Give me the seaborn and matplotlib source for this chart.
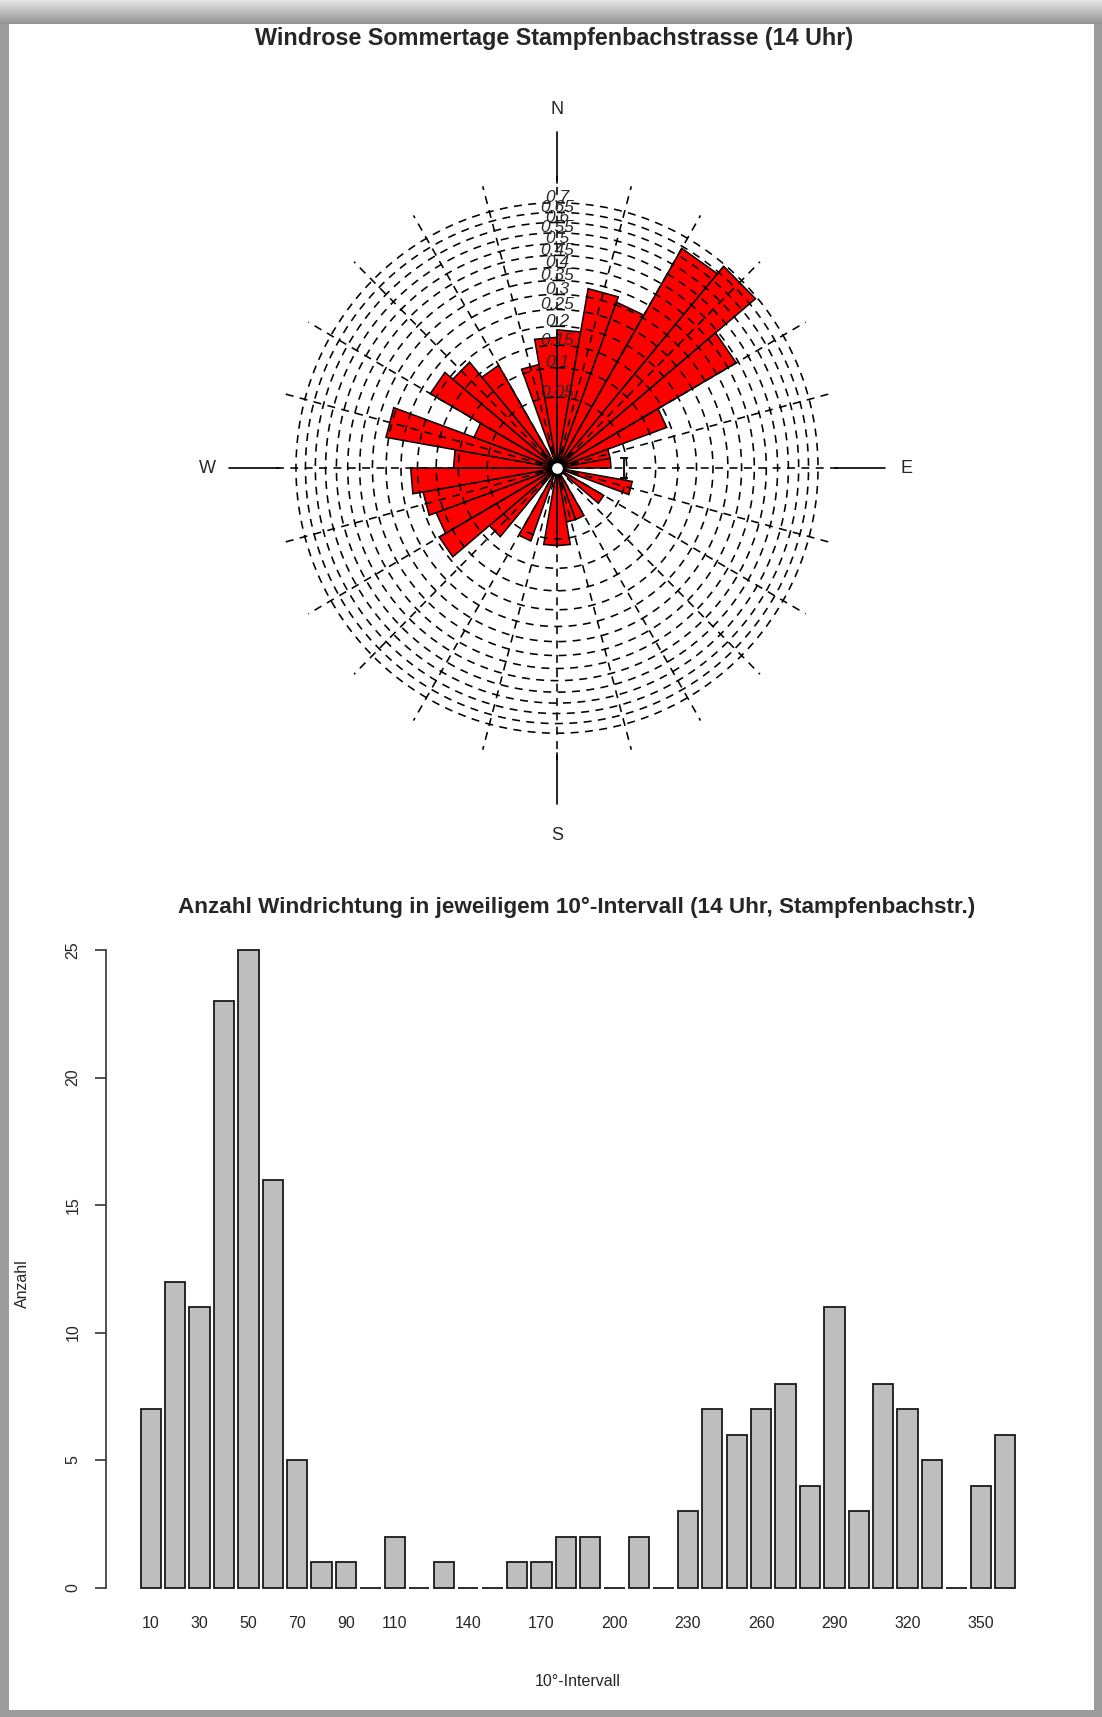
import numpy as np
import pandas as pd
import matplotlib
matplotlib.use('Agg')
import matplotlib.pyplot as plt
import seaborn as sns
from matplotlib.patches import Rectangle

# Anzahl Windrichtungen pro 10-Grad-Intervall
intervalle = [10, 20, 30, 40, 50, 60, 70, 80, 90, 100, 110, 120, 130, 140, 150, 160, 170, 180,
              190, 200, 210, 220, 230, 240, 250, 260, 270, 280, 290, 300, 310, 320, 330, 340, 350, 360]
anzahl = [7, 12, 11, 23, 25, 16, 5, 1, 1, 0, 2, 0, 1, 0, 0, 1, 1, 2,
          2, 0, 2, 0, 3, 7, 6, 7, 8, 4, 11, 3, 8, 7, 5, 0, 4, 6]

rose_freq = [0.19, 0.33, 0.31, 0.64, 0.69, 0.44, 0.14, 0.03, 0.03, 0.0, 0.06, 0.0, 0.03, 0.0, 0.0, 0.03, 0.03, 0.06,
             0.06, 0.0, 0.06, 0.0, 0.08, 0.19, 0.17, 0.19, 0.22, 0.11, 0.31, 0.08, 0.22, 0.19, 0.14, 0.0, 0.11, 0.17]
kreise = [0.05, 0.1, 0.15, 0.2, 0.25, 0.3, 0.35, 0.4, 0.45, 0.5, 0.55, 0.6, 0.65, 0.7]
kreis_labels = ['0.05', '0.1', '0.15', '0.2', '0.25', '0.3', '0.35', '0.4', '0.45', '0.5', '0.55', '0.6', '0.65', '0.7']

xtick_labels = ['10', '30', '50', '70', '90', '110', '140', '170', '200', '230', '260', '290', '320', '350']

sns.set_style('white')
plt.rcParams['font.family'] = ['Liberation Sans', 'DejaVu Sans']

W, H = 1102, 1717
fig = plt.figure(figsize=(W / 100, H / 100), dpi=100, facecolor='#9c9c9c')

# Rahmen / Hintergrund
bg = fig.add_axes([0, 0, 1, 1], zorder=-10)
bg.set_xlim(0, W)
bg.set_ylim(H, 0)
grad = np.linspace(0.90, 0.58, 24).reshape(-1, 1)
bg.imshow(grad, extent=[0, W, 24, 0], cmap='gray', vmin=0, vmax=1, aspect='auto')
bg.add_patch(Rectangle((9, 24), 1085, 1686, facecolor='white', edgecolor='none'))
bg.axis('off')

# ---------------- Windrose ----------------
cx, cy, half = 557, 468, 400
ax1 = fig.add_axes([(cx - half) / W, 1 - (cy + half) / H, 2 * half / W, 2 * half / H])
ax1.set_xlim(-half / 312, half / 312)
ax1.set_ylim(-half / 317, half / 317)
ax1.axis('off')

for i, f in enumerate(rose_freq):
    if f <= 0:
        continue
    r = np.sqrt(f)
    a = np.radians([i * 10, (i + 1) * 10])
    xs = [0, r * np.sin(a[0]), r * np.sin(a[1]), 0]
    ys = [0, r * np.cos(a[0]), r * np.cos(a[1]), 0]
    ax1.fill(xs, ys, facecolor='red', edgecolor='black', linewidth=1.1, zorder=2)

t = np.linspace(0, 2 * np.pi, 400)
for v, lab in zip(kreise, kreis_labels):
    rr = np.sqrt(v)
    ax1.plot(rr * np.sin(t), rr * np.cos(t), color='black', lw=1.15, ls=(0, (5, 4)), zorder=3)
    ax1.text(0, rr - 0.008, lab, ha='center', va='bottom', fontsize=12.5, style='italic',
             color='#2a2a2a', zorder=6)

for ang in range(0, 360, 15):
    a = np.radians(ang)
    ax1.plot([0, 0.92 * np.sin(a)], [0, 0.92 * np.cos(a)], color='black', lw=1.15,
             ls=(0, (5, 4)), zorder=3)

# Himmelsrichtungen
ax1.plot([0, 0], [0.90, 1.06], color='black', lw=1.2)
ax1.plot([0, 0], [-0.90, -1.06], color='black', lw=1.2)
ax1.plot([0.89, 1.05], [0, 0], color='black', lw=1.2)
ax1.plot([-0.89, -1.05], [0, 0], color='black', lw=1.2)
ax1.text(0, 1.13, 'N', ha='center', va='center', fontsize=13)
ax1.text(0, -1.16, 'S', ha='center', va='center', fontsize=13)
ax1.text(1.12, 0, 'E', ha='center', va='center', fontsize=13)
ax1.text(-1.12, 0, 'W', ha='center', va='center', fontsize=13)

ax1.errorbar([0.215], [0], yerr=[0.03], fmt='none', ecolor='black', elinewidth=1.3, capsize=3,
             capthick=1.3, zorder=4)
ax1.scatter([0], [0], s=90, facecolor='white', edgecolor='black', linewidth=1.8, zorder=7)

fig.text(554 / W, 1 - 39 / H, 'Windrose Sommertage Stampfenbachstrasse (14 Uhr)',
         ha='center', va='center', fontsize=16.8, fontweight='bold')

# ---------------- Balkendiagramm ----------------
ax2 = fig.add_axes([105.5 / W, 1 - 1613 / H, 945 / W, 688.5 / H])
df = pd.DataFrame({'intervall': [str(v) for v in intervalle], 'anzahl': anzahl})
sns.barplot(data=df, x='intervall', y='anzahl', color='#bebebe', saturation=1,
            edgecolor='#1a1a1a', linewidth=1.3, width=0.833, ax=ax2)
ax2.set_xlim(-1.85, 36.85)
ax2.set_ylim(-1, 26)
for s in ['top', 'right', 'bottom']:
    ax2.spines[s].set_visible(False)
ax2.spines['left'].set_bounds(0, 25)
ax2.spines['left'].set_linewidth(1.2)
ax2.spines['left'].set_color('#333333')

ax2.set_yticks(range(0, 26, 5))
ax2.set_yticklabels([str(v) for v in range(0, 26, 5)], rotation=90, va='center', fontsize=11.5)
ax2.tick_params(axis='y', length=8, width=1.2, pad=10, color='#333333', left=True)

pos = [intervalle.index(int(l)) for l in xtick_labels]
ax2.set_xticks(pos)
ax2.set_xticklabels(xtick_labels, fontsize=11.5)
ax2.tick_params(axis='x', length=0, pad=2)

ax2.set_xlabel('10°-Intervall', fontsize=11.5)
ax2.set_ylabel('Anzahl', fontsize=11.5)
ax2.xaxis.set_label_coords(0.5, -0.089)
ax2.yaxis.set_label_coords(-0.08, 0.478)

fig.text(577 / W, 1 - 907 / H,
         'Anzahl Windrichtung in jeweiligem 10°-Intervall (14 Uhr, Stampfenbachstr.)',
         ha='center', va='center', fontsize=16.2, fontweight='bold')

fig.savefig('out.png', dpi=100, facecolor=fig.get_facecolor())
